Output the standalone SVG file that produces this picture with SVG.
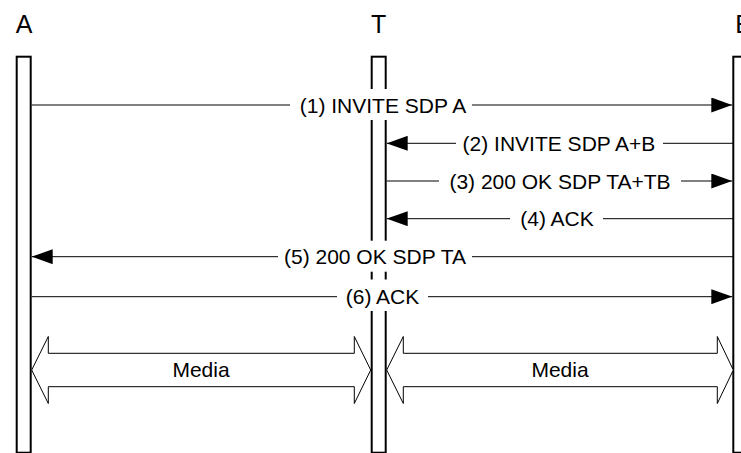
<svg xmlns="http://www.w3.org/2000/svg" width="741" height="453" viewBox="0 0 741 453">
<style>
.life{fill:#fff;stroke:#000;stroke-width:2}
.head{font-family:"Liberation Sans",Arial,sans-serif;font-size:25px;text-anchor:middle;fill:#000}
.msg{stroke:#000;stroke-width:1;fill:none}
.bg{fill:#fff;stroke:none}
.lbl{font-family:"Liberation Sans",Arial,sans-serif;font-size:21px;text-anchor:middle;fill:#000}
.media{fill:#fff;stroke:#000;stroke-width:1}
</style>
<defs>
<marker id="ah" markerWidth="21" markerHeight="15" refX="21" refY="7.5" orient="auto" markerUnits="userSpaceOnUse">
<path d="M0,0 L21,7.5 L0,15 Z" fill="#000"/>
</marker>
</defs>
<rect width="741" height="453" fill="#fff"/>
<g id="lifeline-A">
<text class="head" x="24" y="33">A</text>
<rect class="life" x="16.7" y="56.7" width="14" height="396"/>
</g>
<g id="lifeline-T">
<text class="head" x="378.7" y="33">T</text>
<rect class="life" x="371.7" y="56.7" width="14" height="396"/>
</g>
<g id="lifeline-B">
<text class="head" x="743.5" y="33">B</text>
<rect class="life" x="733.3" y="56.7" width="14" height="396"/>
</g>
<g id="connectors">
<g id="m1">
<line class="msg" x1="31.7" y1="105" x2="732.3" y2="105" marker-end="url(#ah)"/>
<rect class="bg" x="290" y="89" width="182" height="31"/>
<text class="lbl" x="383" y="112.6">(1) INVITE SDP A</text>
</g>
<g id="m2">
<line class="msg" x1="733" y1="143.3" x2="386.7" y2="143.3" marker-end="url(#ah)"/>
<rect class="bg" x="456" y="128" width="207" height="31"/>
<text class="lbl" x="559" y="150.8">(2) INVITE SDP A+B</text>
</g>
<g id="m3">
<line class="msg" x1="386.7" y1="181" x2="732.3" y2="181" marker-end="url(#ah)"/>
<rect class="bg" x="439" y="166" width="242" height="31"/>
<text class="lbl" x="560" y="188.5">(3) 200 OK SDP TA+TB</text>
</g>
<g id="m4">
<line class="msg" x1="733" y1="218.7" x2="386.7" y2="218.7" marker-end="url(#ah)"/>
<rect class="bg" x="510" y="203" width="93" height="31"/>
<text class="lbl" x="557" y="226.2">(4) ACK</text>
</g>
<g id="m5">
<line class="msg" x1="733" y1="256.7" x2="31.7" y2="256.7" marker-end="url(#ah)"/>
<rect class="bg" x="278" y="240.7" width="194" height="31"/>
<text class="lbl" x="375" y="264.2">(5) 200 OK SDP TA</text>
</g>
<g id="m6">
<line class="msg" x1="31.7" y1="296.7" x2="732.3" y2="296.7" marker-end="url(#ah)"/>
<rect class="bg" x="337" y="279.5" width="91" height="31.5"/>
<text class="lbl" x="382.5" y="304.2">(6) ACK</text>
</g>
<g id="media-AT">
<polygon class="media" points="31.7,370 48.3,336.5 48.3,353.3 354.3,353.3 354.3,336.5 370.7,370 354.3,403.5 354.3,386.7 48.3,386.7 48.3,403.5"/>
<text class="lbl" x="201" y="376.7">Media</text>
</g>
<g id="media-TB">
<polygon class="media" points="386.7,370 403.3,336.5 403.3,353.3 717.3,353.3 717.3,336.5 733.3,370 717.3,403.5 717.3,386.7 403.3,386.7 403.3,403.5"/>
<text class="lbl" x="560" y="376.7">Media</text>
</g>
</g>
</svg>
